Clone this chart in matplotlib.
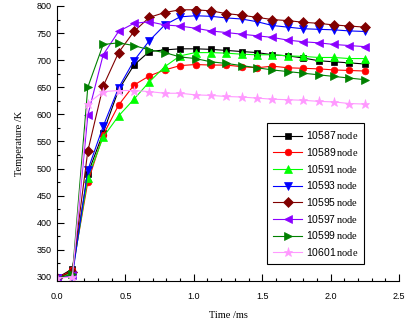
import numpy as np
import matplotlib
matplotlib.use("Agg")
import matplotlib.pyplot as plt
from matplotlib.ticker import MultipleLocator

plt.rcParams['mathtext.fontset'] = 'custom'
plt.rcParams['mathtext.rm'] = 'Liberation Serif'

time_ms = [i * 0.1125 for i in range(21)]

labels = ["10587", "10589", "10591", "10593", "10595", "10597", "10599", "10601"]

t_10587 = [298, 315, 490, 566, 645, 691, 716, 719, 721, 721, 720, 718, 716, 714, 710, 708, 704, 699, 697, 695, 693]
t_10589 = [298, 312, 475, 562, 617, 654, 671, 682, 690, 692, 691, 691, 688, 686, 689, 686, 685, 684, 682, 681, 680]
t_10591 = [298, 308, 483, 558, 597, 628, 660, 688, 708, 714, 714, 713, 711, 710, 710, 708, 707, 705, 705, 703, 703]
t_10593 = [298, 302, 497, 578, 649, 699, 736, 765, 780, 782, 781, 778, 776, 771, 764, 761, 758, 757, 756, 754, 753]
t_10595 = [298, 310, 532, 652, 714, 753, 779, 788, 793, 793, 791, 786, 783, 779, 775, 773, 770, 768, 765, 763, 761]
t_10597 = [298, 303, 598, 710, 753, 768, 771, 765, 763, 759, 754, 751, 748, 745, 742, 737, 734, 732, 729, 727, 725]
t_10599 = [298, 305, 650, 729, 732, 727, 719, 714, 706, 703, 697, 694, 690, 686, 682, 679, 676, 673, 670, 667, 664]
t_10601 = [298, 300, 620, 642, 644, 644, 642, 639, 639, 636, 635, 633, 632, 630, 628, 627, 626, 624, 623, 620, 619]

series = [t_10587, t_10589, t_10591, t_10593, t_10595, t_10597, t_10599, t_10601]
colors = ["#000000", "#FF0000", "#00FF00", "#0000FF", "#800000", "#8B00FF", "#008000", "#FF99FF"]
markers = ["s", "o", "^", "v", "D", "<", ">", "*"]
msizes = [4.2, 4.8, 5.6, 5.6, 4.8, 5.6, 5.6, 6.5]

fig = plt.figure(figsize=(4.06, 3.25), dpi=100)
ax = fig.add_axes([57/406, 1 - 281/325, (399-57)/406, (281-6)/325])

for lab, ys, c, m, ms in zip(labels, series, colors, markers, msizes):
    ax.plot(time_ms, ys, color=c, marker=m, markersize=ms, linewidth=0.8,
            markeredgewidth=0.5, markeredgecolor=c,
            label=lab + r"$\,\mathrm{node}$")

ax.set_xlim(0, 2.5)
ax.set_ylim(292.5, 800)
ax.xaxis.set_major_locator(MultipleLocator(0.5))
ax.xaxis.set_minor_locator(MultipleLocator(0.1))
ax.yaxis.set_major_locator(MultipleLocator(50))
ax.yaxis.set_minor_locator(MultipleLocator(25))
ax.tick_params(which='both', direction='in', width=0.8)
ax.tick_params(which='major', length=5, labelsize=6.5, pad=8)
ax.tick_params(which='minor', length=2.5)
ax.tick_params(axis='y', which='major', pad=4)
for lbl in ax.get_xticklabels() + ax.get_yticklabels():
    lbl.set_family('Liberation Sans')
ax.set_xticks([0, 0.5, 1.0, 1.5, 2.0, 2.5])
ax.set_xticklabels(["0.0", "0.5", "1.0", "1.5", "2.0", "2.5"], family='Liberation Sans')
ax.spines['top'].set_visible(False)
ax.spines['right'].set_visible(False)

ax.set_xlabel("Time /ms", family='Liberation Serif', fontsize=7.5, labelpad=7)
ax.set_ylabel("Temperature /K", family='Liberation Serif', fontsize=7.5, labelpad=9)

leg = ax.legend(loc='upper left', bbox_to_anchor=((267-57)/342, (281-123)/275),
                frameon=True, fancybox=False, edgecolor='black', framealpha=1,
                prop={'family': 'Liberation Sans', 'size': 7.5},
                handlelength=2.8, handletextpad=0.3, labelspacing=0.45,
                borderpad=0.6, borderaxespad=0)
leg.get_frame().set_linewidth(0.8)

fig.savefig("out.png", dpi=100)
